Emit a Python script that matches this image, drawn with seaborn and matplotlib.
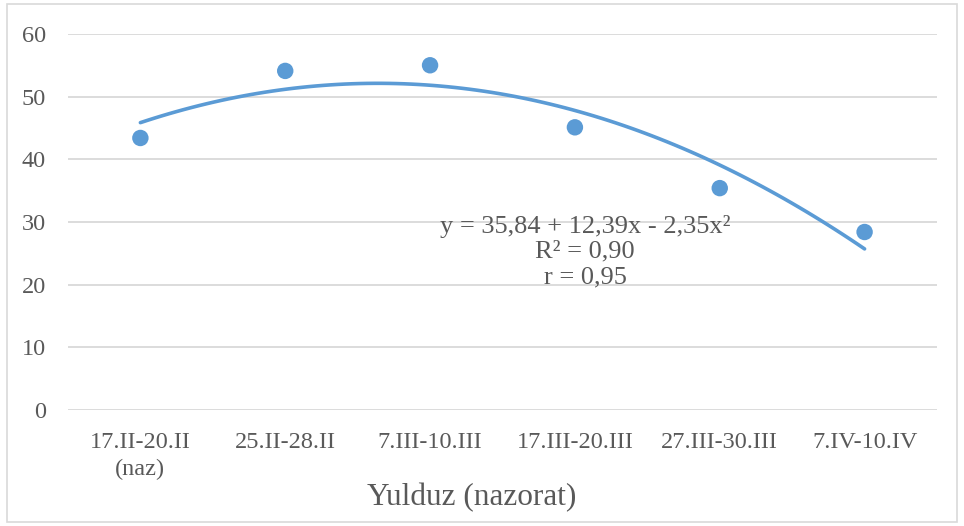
import matplotlib
matplotlib.use("Agg")
import matplotlib.pyplot as plt
import numpy as np
import pandas as pd
import seaborn as sns
from matplotlib.patches import Rectangle

# data
periods = ["17.II-20.II\n(naz)", "25.II-28.II", "7.III-10.III",
           "17.III-20.III", "27.III-30.III", "7.IV-10.IV"]
values = [43.4, 54.1, 55.0, 45.1, 35.4, 28.4]
eq_text = "y = 35,84 + 12,39x - 2,35x²\nR² = 0,90\nr = 0,95"
xlabel = "Yulduz (nazorat)"

df = pd.DataFrame({"x": np.arange(1, len(values) + 1), "y": values})

sns.set_style("white")
plt.rcParams["font.family"] = ["Liberation Serif", "DejaVu Serif"]

blue = "#5b9bd5"
grey = "#595959"

fig = plt.figure(figsize=(9.64, 5.26), dpi=100)
ax = fig.add_axes([0.0705, 0.2205, 0.9015, 0.715])

sns.regplot(data=df, x="x", y="y", order=2, ci=None, ax=ax,
            scatter_kws=dict(s=140, color=blue, alpha=1, edgecolor="none", zorder=3),
            line_kws=dict(color=blue, lw=2.6, zorder=2))

ax.set_xlim(0.5, 6.5)
ax.set_ylim(0, 60)
ax.set_yticks(range(0, 61, 10))
ax.set_xticks(df["x"])
ax.set_xticklabels(periods, linespacing=1.35)
ax.yaxis.grid(True, color="#d9d9d9", lw=1.3)
ax.set_axisbelow(True)
for s in ax.spines.values():
    s.set_visible(False)
ax.tick_params(axis="both", length=0, labelsize=17.5, colors=grey)
ax.tick_params(axis="y", pad=16)
ax.tick_params(axis="x", pad=16)
ax.set_ylabel("")
ax.set_xlabel(xlabel, fontsize=22.5, color=grey)
ax.xaxis.set_label_coords(0.464, -0.195)

ax.text(4.07, 25.3, eq_text, ha="center", va="center", fontsize=19,
        color=grey, linespacing=1.2)

fig.patches.append(Rectangle((0.007, 0.008), 0.986, 0.985, transform=fig.transFigure,
                             fill=False, edgecolor="#d9d9d9", lw=1.2))

fig.savefig("out.png", dpi=100)
